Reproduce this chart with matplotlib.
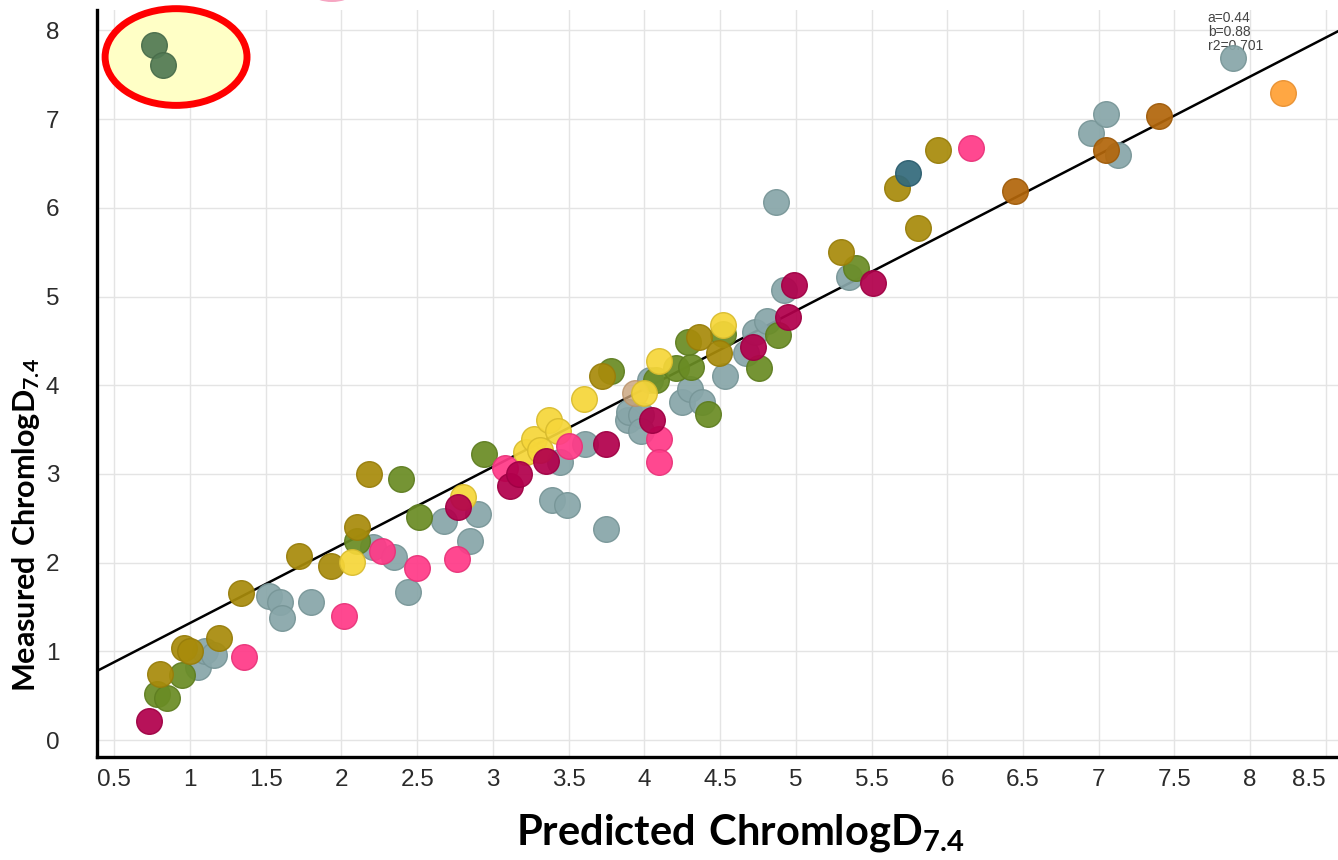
import matplotlib
matplotlib.use("Agg")
import matplotlib.pyplot as plt
from matplotlib.patches import Ellipse
import numpy as np

# ---------------- data ----------------
grey_x = [1.055, 1.10, 1.16, 1.52, 1.594, 1.61, 1.80, 2.21, 2.35, 2.44, 2.68, 2.85, 2.90,
          3.39, 3.49, 3.44, 3.61, 3.75, 3.89, 3.90, 3.98, 3.98, 4.04, 4.25, 4.30, 4.38,
          4.53, 4.67, 4.73, 4.81, 4.87, 4.92, 5.35, 6.95, 7.05, 7.13, 7.89]
grey_y = [0.82, 1.01, 0.96, 1.62, 1.56, 1.38, 1.56, 2.18, 2.06, 1.67, 2.47, 2.25, 2.55,
          2.71, 2.65, 3.14, 3.34, 2.38, 3.61, 3.70, 3.66, 3.49, 4.06, 3.81, 3.96, 3.81,
          4.11, 4.36, 4.60, 4.73, 6.07, 5.07, 5.22, 6.84, 7.06, 6.60, 7.69]

olive_x = [0.78, 0.85, 0.95, 2.10, 2.39, 2.51, 2.94, 3.78, 4.08, 4.21, 4.31, 4.29, 4.52,
           4.42, 4.76, 4.88, 5.40]
olive_y = [0.52, 0.48, 0.73, 2.25, 2.94, 2.51, 3.22, 4.16, 4.06, 4.19, 4.21, 4.49, 4.58,
           3.68, 4.19, 4.57, 5.32]

gold_x = [0.80, 0.96, 1.00, 1.19, 1.34, 1.72, 1.93, 2.10, 2.18, 3.72, 4.36, 4.49, 5.30,
          5.67, 5.81, 5.94]
gold_y = [0.75, 1.04, 1.00, 1.15, 1.66, 2.07, 1.96, 2.40, 3.00, 4.10, 4.54, 4.36, 5.50,
          6.22, 5.77, 6.65]

yellow_x = [2.07, 2.80, 3.22, 3.27, 3.31, 3.37, 3.43, 3.60, 4.00, 4.10, 4.52]
yellow_y = [2.01, 2.74, 3.25, 3.40, 3.27, 3.61, 3.48, 3.85, 3.91, 4.27, 4.68]

pink_x = [1.356, 2.02, 2.27, 2.50, 2.76, 3.08, 3.50, 4.10, 4.10, 6.16]
pink_y = [0.935, 1.40, 2.13, 1.94, 2.04, 3.07, 3.32, 3.40, 3.13, 6.67]

crimson_x = [0.73, 2.77, 3.11, 3.17, 3.35, 3.75, 4.05, 4.72, 4.95, 4.99, 5.51]
crimson_y = [0.22, 2.63, 2.87, 3.00, 3.15, 3.34, 3.61, 4.43, 4.77, 5.13, 5.15]

darkgreen_x = [0.76, 0.82]
darkgreen_y = [7.84, 7.61]

orange_x = [8.22]
orange_y = [7.29]

brown_x = [6.45, 7.05, 7.40]
brown_y = [6.19, 6.65, 7.03]

teal_x = [5.74]
teal_y = [6.39]

tan_x = [3.94]
tan_y = [3.91]

fit_a = 0.44
fit_b = 0.88
fit_r2 = 0.701

x_ticks = [0.5, 1, 1.5, 2, 2.5, 3, 3.5, 4, 4.5, 5, 5.5, 6, 6.5, 7, 7.5, 8, 8.5]
y_ticks = [0, 1, 2, 3, 4, 5, 6, 7, 8]

# ---------------- style ----------------
plt.rcParams['mathtext.fontset'] = 'custom'
plt.rcParams['mathtext.rm'] = 'Lato'
plt.rcParams['mathtext.bf'] = 'Lato:bold'

fig = plt.figure(figsize=(13.38, 8.6), dpi=100)
ax = fig.add_axes([97/1338, 103/860, 1 - 97/1338, (757-10)/860])

ax.set_xlim(0.386, 8.58)
ax.set_ylim(-0.19, 8.23)

ax.set_xticks(x_ticks)
ax.set_xticklabels([f"{t:g}" for t in x_ticks])
ax.set_yticks(y_ticks)
ax.set_yticklabels([f"{t:g}" for t in y_ticks])
ax.tick_params(axis='both', length=0, labelsize=17.5, labelcolor='#2b2b2b')
ax.tick_params(axis='x', pad=9)
ax.tick_params(axis='y', pad=27)
for lab in ax.get_xticklabels() + ax.get_yticklabels():
    lab.set_fontfamily(['Liberation Sans', 'DejaVu Sans'])
ax.get_xticklabels()[-1].set_horizontalalignment('right')

ax.grid(True, color='#e4e4e4', lw=1.0, zorder=0)
ax.set_axisbelow(True)
for s in ['top', 'right']:
    ax.spines[s].set_visible(False)
for s in ['left', 'bottom']:
    ax.spines[s].set_linewidth(2.4)
    ax.spines[s].set_color('black')

# highlight ellipse
ell = Ellipse((0.908, 7.70), 0.937, 1.09, facecolor='#ffffc6', edgecolor='#ff0000',
              lw=5, zorder=2, clip_on=False)
ax.add_patch(ell)

# partial pink shape at very top (outside axes)
pk = Ellipse((332/1338, 1 + 5/860), 36/1338, 14/860, transform=fig.transFigure,
             facecolor='#f6a6c2', edgecolor='none', zorder=1)
fig.patches.append(pk)

# regression line
ax.axline((0, fit_a), slope=fit_b, color='black', lw=1.8, zorder=3)

S = 340
def sc(x, y, c, ec, alpha=0.93, z=4):
    ax.scatter(x, y, s=S, color=c, edgecolors=ec, linewidths=1.0, alpha=alpha, zorder=z)

sc(grey_x, grey_y, '#88a6a9', '#779597')
sc(olive_x, olive_y, '#6a8c24', '#5e7d20')
sc(gold_x, gold_y, '#a88b0b', '#977d0a')
sc(tan_x, tan_y, '#c9a27a', '#b89068', alpha=0.8)
sc(yellow_x, yellow_y, '#f6d63a', '#d8bb2e')
sc(pink_x, pink_y, '#ff3a88', '#e83379')
sc(crimson_x, crimson_y, '#b2004c', '#9e0043')
sc(darkgreen_x, darkgreen_y, '#527a54', '#486c4a')
sc(orange_x, orange_y, '#ffa035', '#e89030')
sc(brown_x, brown_y, '#b2660b', '#9e5a09')
sc(teal_x, teal_y, '#336a7c', '#2b5d6e')

ax.text(7.72, 8.22, f"a={fit_a}\nb={fit_b}\nr2={fit_r2}", fontsize=10, color='#444444',
        va='top', ha='left', linespacing=1.0, zorder=1,
        family=['Liberation Sans', 'DejaVu Sans'])

fig.text(740/1338, 1 - 833/860, r'$\mathbf{Predicted\ ChromlogD_{7.4}}$',
         fontsize=30, ha='center', va='center')
fig.text(26/1338, 1 - 525/860, r'$\mathbf{Measured\ ChromlogD_{7.4}}$',
         fontsize=22, ha='center', va='center', rotation=90)

fig.savefig('out.png', dpi=100)
